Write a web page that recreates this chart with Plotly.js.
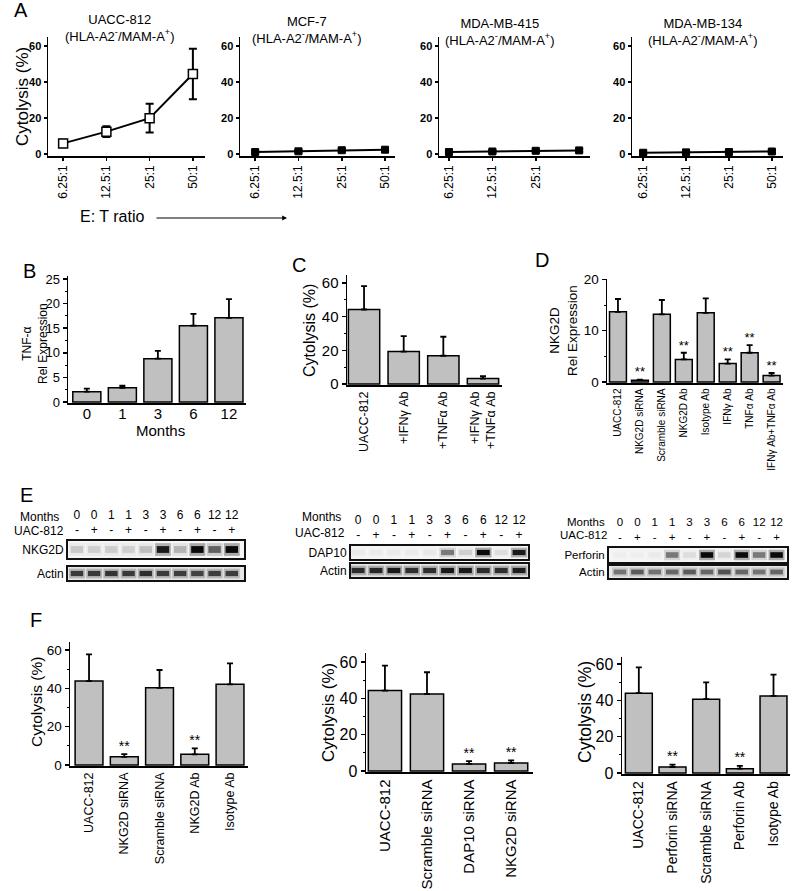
<!DOCTYPE html>
<html><head><meta charset="utf-8">
<script src="https://cdn.plot.ly/plotly-3.0.1.min.js"></script>
<style>html,body{margin:0;padding:0;background:#fff}</style>
</head><body><div id="chart" style="width:800px;height:891px"></div>
<script>
// ===== DATA =====
const ratioLabels=['6.25:1','12.5:1','25:1','50:1'];
const ratioLabels415=['6.25:1','12.5:1','25:1'];
const uacc812Cyto=[6,12.5,20,44.5];
const uacc812Err=[2,3,8,14];
const mcf7Cyto=[1.2,1.6,2.2,2.5];
const mcf7Err=[0.8,0.8,0.8,0.8];
const mda415Cyto=[1.2,1.5,1.9,2.1];
const mda415Err=[0.8,0.8,0.8,0.8];
const mda134Cyto=[0.8,1.0,1.2,1.5];
const mda134Err=[0.8,0.8,0.8,0.8];

const monthLabels=['0','1','3','6','12'];
const tnfExpr=[2.1,2.9,8.8,15.5,17.1];
const tnfErr=[0.6,0.4,1.6,2.4,3.8];

const cLabels=['UACC-812','+IFNγ Ab','+TNFα Ab','+IFNγ Ab<br>+TNFα Ab'];
const cCyto=[44.3,19.3,16.8,3.2];
const cErr=[13.9,9.2,11.3,1.4];

const dLabels=['UACC-812','NKG2D siRNA','Scramble siRNA','NKG2D Ab','Isotype Ab','IFNγ Ab','TNFα Ab','IFNγ Ab+TNFα Ab'];
const dExpr=[13.7,0.35,13.2,4.4,13.5,3.6,5.7,1.25];
const dErr=[2.5,0.1,2.8,1.3,2.8,0.8,1.5,0.5];
const dSig=['','**','','**','','**','**','**'];

const laneMonths=['0','0','1','1','3','3','6','6','12','12'];
const laneUAC=['-','+','-','+','-','+','-','+','-','+'];
const nkg2dBand=[0.15,0.12,0.13,0.12,0.18,0.9,0.22,1.0,0.55,1.0];
const nkg2dActin=[0.72,0.72,0.75,0.72,0.78,0.72,0.7,0.68,0.7,0.7];
const dap10Band=[0.03,0.03,0.03,0.03,0.04,0.45,0.12,1.0,0.08,0.9];
const dap10Actin=[0.8,0.82,0.9,0.78,0.78,0.9,0.9,0.8,0.78,0.88];
const perforinBand=[0.02,0.02,0.03,0.45,0.08,1.0,0.1,1.0,0.45,1.0];
const perforinActin=[0.45,0.55,0.45,0.5,0.55,0.5,0.6,0.5,0.45,0.5];

const f1Labels=['UACC-812','NKG2D siRNA','Scramble siRNA','NKG2D Ab','Isotype Ab'];
const f1Cyto=[43.8,4.3,40.3,5.6,42.1];
const f1Err=[13.9,1.4,9.3,3.1,10.9];
const f1Sig=['','**','','**',''];
const f2Labels=['UACC-812','Scramble siRNA','DAP10 siRNA','NKG2D siRNA'];
const f2Cyto=[44.3,42.4,3.9,4.4];
const f2Err=[13.8,12.0,1.5,1.5];
const f2Sig=['','','**','**'];
const f3Labels=['UACC-812','Perforin siRNA','Scramble siRNA','Perforin Ab','Isotype Ab'];
const f3Cyto=[43.9,3.3,40.6,2.4,42.4];
const f3Err=[14.2,1.3,9.2,1.5,11.7];
const f3Sig=['','**','','**',''];

// ===== LAYOUT HELPERS =====
const FONT='Arial, "Liberation Sans", sans-serif';
const W=800,H=891;
const px=(a,b)=>[a/W,b/W];
const py=(t,b)=>[1-b/H,1-t/H];
const traces=[];
const layout={width:W,height:H,margin:{l:0,r:0,t:0,b:0},showlegend:false,barmode:'overlay',
  paper_bgcolor:'#fff',plot_bgcolor:'rgba(0,0,0,0)',font:{family:FONT,color:'#000'},
  annotations:[],shapes:[]};
let n=0;
function addAxes(xd,yd,xo,yo){
  n++; const s=n===1?'':String(n);
  layout['xaxis'+s]=Object.assign({domain:xd,anchor:'y'+s},xo);
  layout['yaxis'+s]=Object.assign({domain:yd,anchor:'x'+s},yo);
  return {x:'x'+s,y:'y'+s};
}
const axBase={showgrid:false,zeroline:false,showline:true,linecolor:'#000',linewidth:1.5,
  ticks:'outside',tickcolor:'#000',tickwidth:1.5,ticklen:4,fixedrange:true};
function ann(text,xp,yp,opt){
  layout.annotations.push(Object.assign({text,x:xp/W,y:1-yp/H,xref:'paper',yref:'paper',
    showarrow:false,xanchor:'center',yanchor:'middle',font:{size:13}},opt||{}));
}

// ===== PANEL A =====
function linePanel(xd,xr,vals,errs,tickLabels,openMarker){
  const ax=addAxes(px(...xd),py(37,156),
    Object.assign({},axBase,{type:'category',categoryorder:'array',categoryarray:ratioLabels,range:xr,
      tickangle:-90,ticklen:3,tickvals:tickLabels,ticktext:tickLabels,tickfont:{size:12}}),
    Object.assign({},axBase,{range:[-1,65],tickvals:[0,20,40,60],ticklen:3,
      tickfont:{size:11,weight:'bold'}}));
  traces.push({type:'scatter',mode:'lines+markers',x:ratioLabels,y:vals,
    line:{color:'#000',width:2},
    marker:openMarker?{symbol:'square',size:9,color:'#fff',line:{color:'#000',width:1.5}}
                     :{symbol:'square',size:7,color:'#000',line:{color:'#000',width:1}},
    error_y:{type:'data',array:errs,visible:true,thickness:2,width:4,color:'#000'},
    xaxis:ax.x,yaxis:ax.y,hoverinfo:'skip',cliponaxis:false});
}
linePanel([48,205],[-0.35,3.28],uacc812Cyto,uacc812Err,ratioLabels,true);
linePanel([240,395],[-0.35,3.23],mcf7Cyto,mcf7Err,ratioLabels,false);
linePanel([439,590],[-0.23,3.25],mda415Cyto,mda415Err,ratioLabels415,false);
linePanel([632,783],[-0.26,3.26],mda134Cyto,mda134Err,ratioLabels,false);
const hla='(HLA-A2<sup>-</sup>/MAM-A<sup>+</sup>)';
ann('UACC-812<br>'+hla,120,28);
ann('MCF-7<br>'+hla,307,30);
ann('MDA-MB-415<br>'+hla,500,32);
ann('MDA-MB-134<br>'+hla,703,32);
ann('Cytolysis (%)',22,97,{textangle:-90,font:{size:17}});
ann('E: T ratio',78,216,{xanchor:'left',font:{size:16}});
layout.annotations.push({x:287/W,y:1-218/H,xref:'paper',yref:'paper',ax:-132,ay:0,
  text:'',showarrow:true,arrowhead:2,arrowsize:0.8,arrowwidth:1.2,arrowcolor:'#000'});

// ===== BAR PANELS =====
function barPanel(o){
  const ax=addAxes(px(...o.xd),py(...o.yd),
    Object.assign({},axBase,{type:'category',range:o.xRange,ticks:'',tickangle:o.tickangle===undefined?-90:o.tickangle,
      tickfont:{size:o.xFont},ticklabelstandoff:o.xStandoff||0}),
    Object.assign({},axBase,{range:o.yRange,dtick:o.dtick,tick0:0,tickfont:{size:o.yFont},
      minor:{ticks:'outside',ticklen:2,dtick:o.minor,tickcolor:'#000',tickwidth:1}}));
  traces.push({type:'bar',x:o.labels,y:o.vals,width:o.width,
    marker:{color:'#c0c0c0',line:{color:'#000',width:1.5}},
    error_y:{type:'data',symmetric:false,array:o.errs,arrayminus:o.errs.map(()=>0),
      thickness:1.8,width:3,color:'#000'},
    xaxis:ax.x,yaxis:ax.y,hoverinfo:'skip'});
  if(o.sig){
    const idx=o.sig.map((s,i)=>i).filter(i=>o.sig[i]);
    traces.push({type:'scatter',mode:'text',x:idx.map(i=>o.labels[i]),y:idx.map(i=>o.vals[i]+o.errs[i]),
      text:idx.map(i=>o.sig[i]),textposition:'top center',textfont:{size:o.starFont},
      xaxis:ax.x,yaxis:ax.y,cliponaxis:false,hoverinfo:'skip'});
  }
  return ax;
}
// B
barPanel({xd:[68,246],yd:[276,403],xRange:[-0.53,4.48],labels:monthLabels,vals:tnfExpr,errs:tnfErr,
  width:0.79,yRange:[-0.2,25.6],dtick:5,minor:2.5,yFont:13,xFont:15,tickangle:0,xStandoff:-4});
ann('TNF-α<br>Rel Expression',35,344,{textangle:-90,font:{size:12}});
ann('Months',160,430,{font:{size:15}});
// C
barPanel({xd:[347,502],yd:[275,385],xRange:[-0.43,3.48],labels:cLabels,vals:cCyto,errs:cErr,
  width:0.79,yRange:[-0.6,64.8],dtick:20,minor:10,yFont:15,xFont:12.5});
ann('Cytolysis (%)',309,331,{textangle:-90,font:{size:16}});
// D
barPanel({xd:[607,783],yd:[279,383],xRange:[-0.5,7.52],labels:dLabels,vals:dExpr,errs:dErr,sig:dSig,
  starFont:13,width:0.77,yRange:[-0.2,20.1],dtick:10,minor:5,yFont:13.5,xFont:10});
ann('NKG2D<br>Rel Expression',563,331,{textangle:-90,font:{size:13.5}});

// ===== PANEL E (blots) =====
function blot(o){
  const lanes=laneMonths.map((_,i)=>i);
  const boxAx={showgrid:false,zeroline:false,showline:true,mirror:true,linecolor:'#111',linewidth:2,
    ticks:'',fixedrange:true};
  const a1=addAxes(px(...o.xd),py(...o.bandY),
    Object.assign({},boxAx,{range:o.xRange,side:'top',tickvals:lanes,
      ticktext:lanes.map(i=>laneMonths[i]+'<br>'+laneUAC[i]),tickfont:{size:o.font}}),
    Object.assign({},boxAx,{range:[-1,1],tickvals:[0],ticktext:[o.label],tickfont:{size:o.font}}));
  const a2=addAxes(px(...o.xd),py(...o.actinY),
    Object.assign({},boxAx,{range:o.xRange,showticklabels:false}),
    Object.assign({},boxAx,{range:[-1,1],tickvals:[0],ticktext:['Actin'],tickfont:{size:o.font}}));
  [[a1,o.band,1.0,'#f5f5f5'],[a2,o.actin,1.0,'#e6e6e6']].forEach(([a,vals,h,bg])=>{
    layout.shapes.push({type:'rect',xref:a.x+' domain',yref:a.y+' domain',x0:0,x1:1,y0:0,y1:1,
      fillcolor:bg,line:{width:0},layer:'below'});
    // soft halo + dense core of each band
    traces.push({type:'bar',x:lanes,y:vals.map(()=>h*1.5),base:-h*0.75,width:0.92,
      marker:{color:vals.map(v=>'rgba(30,30,30,'+(v*0.35).toFixed(3)+')'),line:{width:0}},
      xaxis:a.x,yaxis:a.y,hoverinfo:'skip'});
    traces.push({type:'bar',x:lanes,y:vals.map(()=>h*0.8),base:-h*0.4,width:0.72,
      marker:{color:vals.map(v=>'rgba(10,10,10,'+v+')'),line:{width:0}},
      xaxis:a.x,yaxis:a.y,hoverinfo:'skip'});
  });
}
blot({xd:[68,244],xRange:[-0.52,9.71],bandY:[541,558],actinY:[567,580],band:nkg2dBand,actin:nkg2dActin,label:'NKG2D',font:12});
blot({xd:[351,528],xRange:[-0.4,9.5],bandY:[546,559],actinY:[564,577],band:dap10Band,actin:dap10Actin,label:'DAP10',font:12});
blot({xd:[609,787],xRange:[-0.63,9.6],bandY:[548,562],actinY:[566,578],band:perforinBand,actin:perforinActin,label:'Perforin',font:11.5});
ann('Months',61,517,{xanchor:'right',font:{size:12}});
ann('UAC-812',66,531,{xanchor:'right',font:{size:12}});
ann('Months',343,517,{xanchor:'right',font:{size:12}});
ann('UAC-812',347,533,{xanchor:'right',font:{size:12}});
ann('Months',607,522,{xanchor:'right',font:{size:11.5}});
ann('UAC-812',609,535,{xanchor:'right',font:{size:11.5}});

// ===== PANEL F =====
barPanel({xd:[70,248],yd:[642,766],xRange:[-0.54,4.51],labels:f1Labels,vals:f1Cyto,errs:f1Err,sig:f1Sig,
  starFont:14,width:0.79,yRange:[-0.5,64.2],dtick:20,minor:10,yFont:13.5,xFont:12.5});
ann('Cytolysis (%)',36,702,{textangle:-90,font:{size:15.5}});
barPanel({xd:[366,533],yd:[653,772],xRange:[-0.45,3.52],labels:f2Labels,vals:f2Cyto,errs:f2Err,sig:f2Sig,
  starFont:14,width:0.79,yRange:[-0.55,65],dtick:20,minor:10,yFont:16,xFont:15});
ann('Cytolysis (%)',328,713,{textangle:-90,font:{size:17}});
barPanel({xd:[622,790],yd:[657,774],xRange:[-0.5,4.49],labels:f3Labels,vals:f3Cyto,errs:f3Err,sig:f3Sig,
  starFont:14,width:0.8,yRange:[-0.55,63.8],dtick:20,minor:10,yFont:16,xFont:14});
ann('Cytolysis (%)',585,712,{textangle:-90,font:{size:17.5}});

// panel letters
[['A',12,10],['B',21,271],['C',290,265],['D',533,260],['E',18,495],['F',28,620]].forEach(([t,x,y])=>
  ann(t,x,y,{xanchor:'left',font:{size:20}}));

Plotly.newPlot('chart',traces,layout,{displayModeBar:false,staticPlot:true});
</script></body></html>
